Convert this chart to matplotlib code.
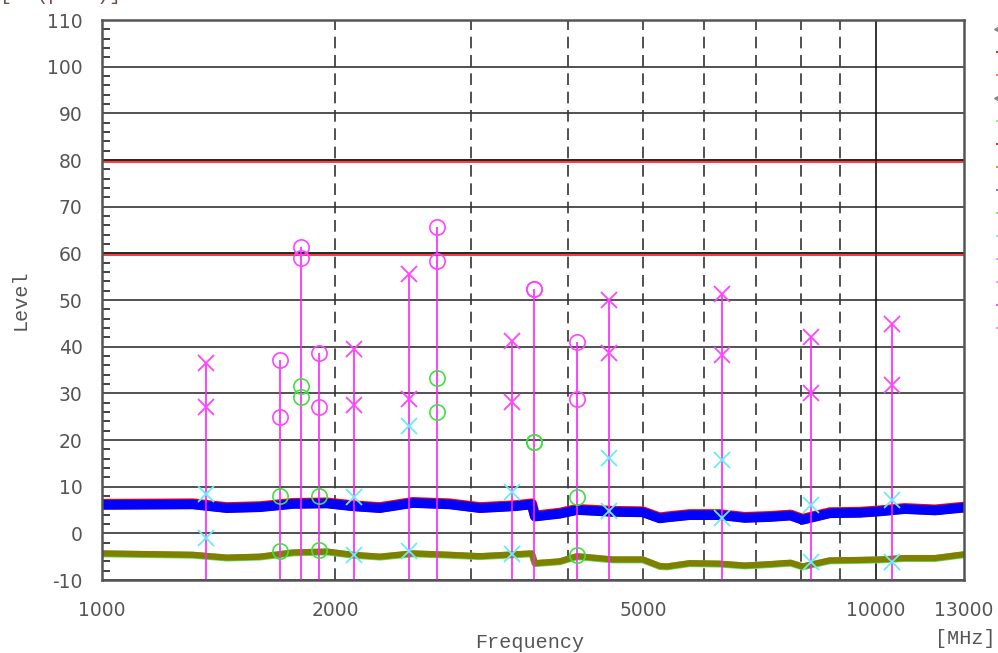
import matplotlib
matplotlib.use("Agg")
import matplotlib.pyplot as plt
from matplotlib.lines import Line2D

# Messpunkte (Frequenz in MHz)
freqs = [1363, 1698, 1808, 1908, 2117, 2493, 2710, 3387, 3616, 4110, 4521, 6327, 8244, 10491]
kinds = ["x", "o", "o", "o", "x", "x", "o", "x", "o", "o", "x", "x", "x", "x"]
peak_hi = [36.6, 37.1, 61.3, 38.7, 39.6, 55.5, 65.6, 41.3, 52.4, 40.9, 49.9, 51.2, 42.1, 44.8]
peak_lo = [27.1, 25.0, 59.0, 27.0, 27.4, 28.8, 58.4, 28.1, 52.4, 28.7, 38.6, 38.2, 30.0, 31.7]
avg_hi = [8.4, 8.0, 31.5, 8.0, 7.8, 23.1, 33.2, 8.9, 19.6, 7.7, 16.2, 15.8, 6.0, 7.1]
avg_lo = [-1.0, -3.8, 29.3, -3.6, -4.6, -3.7, 26.1, -4.4, 19.6, -4.7, 4.7, 3.2, -6.2, -6.1]

# Rauschpegel (Spur)
trace_f = [1000, 1311, 1450, 1600, 1766, 1953, 2109, 2286, 2521, 2815, 3079, 3416, 3593,
           3627, 3906, 4110, 4571, 5000, 5257, 5370, 5745, 6287, 6770, 7300, 7760, 8040,
           8720, 9540, 10120, 10900, 11930, 13000]
trace_pk = [6.1, 6.2, 5.4, 5.6, 6.3, 6.4, 5.8, 5.4, 6.5, 6.2, 5.4, 5.8, 6.2,
            3.6, 4.2, 5.0, 4.6, 4.5, 3.2, 3.4, 3.9, 3.9, 3.3, 3.5, 3.8, 2.9,
            4.3, 4.4, 4.7, 5.2, 4.9, 5.5]
trace_av = [-4.3, -4.6, -5.2, -5.0, -4.1, -3.9, -4.6, -5.0, -4.3, -4.6, -4.9, -4.5, -4.3,
            -6.4, -6.0, -4.9, -5.6, -5.6, -7.0, -7.1, -6.4, -6.5, -6.9, -6.6, -6.3, -7.1,
            -5.8, -5.7, -5.6, -5.3, -5.3, -4.5]

# Grenzwerte
limit_qp = 79.6
limit_av = 59.6

grid_freqs = [2000, 3000, 4000, 5000, 6000, 7000, 8000, 9000]
xtick_vals = [1000, 2000, 5000, 10000, 13000]

mono = "Liberation Mono"
txt_col = "#555555"

fig = plt.figure(figsize=(9.98, 6.53), dpi=100)
ax = fig.add_axes([102 / 998, 1 - 580 / 653, 862 / 998, 560 / 653])

ax.set_xscale("log")
ax.set_xlim(1000, 13000)
ax.set_ylim(-10, 110)

# Gitter
for v in range(-10, 111, 10):
    ax.axhline(v, color="#333333", lw=1.2, zorder=1)
for f in grid_freqs:
    ax.axvline(f, color="#333333", lw=1.2, ls=(0, (7, 4)), zorder=1)
ax.axvline(10000, color="#111111", lw=1.2, zorder=1)

# Grenzlinien
ax.axhline(limit_qp, color="red", lw=1.1, zorder=2)
ax.axhline(limit_av, color="red", lw=1.1, zorder=2)
ax.axhline(80, color="#222222", lw=1.2, zorder=2)
ax.axhline(60, color="#222222", lw=1.2, zorder=2)

# Spuren
ax.plot(trace_f, [v + 0.15 for v in trace_pk], color="red", lw=7.6, zorder=3)
ax.plot(trace_f, trace_pk, color="blue", lw=7.0, zorder=4)
ax.plot(trace_f, [v - 0.1 for v in trace_av], color="#66dd66", lw=5.0, zorder=3)
ax.plot(trace_f, trace_av, color="#808000", lw=4.5, zorder=4)

# Messpunkte
for f, k, a, b, c, d in zip(freqs, kinds, peak_hi, peak_lo, avg_hi, avg_lo):
    ax.vlines(f, -10, a, color="#ff22ff", lw=1.2, zorder=5)
    if k == "x":
        ax.plot([f, f], [a, b], ls="none", marker="x", ms=11, mew=1.3, color="#ff44ff", zorder=6)
        ax.plot([f, f], [c, d], ls="none", marker="x", ms=11, mew=1.3, color="#66eef5", zorder=6)
    else:
        ax.plot([f, f], [a, b], ls="none", marker="o", ms=11, mew=1.2, mfc="none", color="#ff44ff", zorder=6)
        ax.plot([f, f], [c, d], ls="none", marker="o", ms=11, mew=1.2, mfc="none", color="#44dd44", zorder=6)

# Achsen
ax.set_xticks(xtick_vals)
ax.set_xticklabels([str(v) for v in xtick_vals])
ax.xaxis.set_minor_locator(matplotlib.ticker.NullLocator())
ax.set_yticks(range(-10, 111, 10))
ax.set_yticklabels([str(v) for v in range(-10, 111, 10)])
ax.set_yticks([v for v in range(-10, 111, 2) if v % 10 != 0], minor=True)
ax.tick_params(axis="both", which="major", length=0, labelsize=13.5, labelcolor=txt_col)
ax.tick_params(axis="y", which="major", pad=14)
ax.tick_params(axis="x", which="major", pad=15)
ax.tick_params(axis="y", which="minor", direction="in", length=6, width=1.3, color="#333333")
for s in ax.spines.values():
    s.set_color("#555555")
    s.set_linewidth(1.8)
    s.set_zorder(7)

fig.text(20 / 998, 1 - 300 / 653, "Level", rotation=90, ha="center", va="center",
         family=mono, fontsize=14.5, color=txt_col)
fig.text(530 / 998, 1 - 642 / 653, "Frequency", ha="center", va="center",
         family=mono, fontsize=14.5, color=txt_col)
fig.text(965 / 998, 1 - 638 / 653, "[MHz]", ha="center", va="center",
         family=mono, fontsize=14.5, color=txt_col)
fig.text(0.0, 1 + 6 / 653, "[dB(\u03bcV/m)]", ha="left", va="center",
         family=mono, fontsize=14.5, color="#7a4a4a")

# Legende (rechts abgeschnitten)
leg_items = [
    ("<", "none", "#888888", "Limit QP"),
    ("", "-", "red", "EN 55032 QP"),
    ("", "-", "#ff6060", "margin QP"),
    ("<", "none", "#888888", "Limit AV"),
    ("", "-", "#99e099", "Trace"),
    ("", "-", "red", "EN 55032 AV"),
    ("", "-", "#999933", "AV"),
    ("", "-", "#6666ee", "PK"),
    ("", "-", "#66ee66", "AV final"),
    ("", "-", "#88eef5", "PK final"),
    ("", "-", "#f090f0", "QP H"),
    ("", "-", "#ff88ff", "QP V"),
    ("", "-", "#ff33ee", "PK H"),
    ("", "-", "#f088f0", "PK V"),
]
handles = [Line2D([], [], marker=m, ls=ls, color=c, ms=5, lw=1.3) for m, ls, c, _ in leg_items]
fig.legend(handles, [n for _, _, _, n in leg_items], loc="upper left",
           bbox_to_anchor=(993 / 998, 1 - 23 / 653), frameon=False, fontsize=9,
           labelspacing=0.8, borderpad=0, borderaxespad=0, handlelength=2,
           handletextpad=0.4, numpoints=2)

fig.savefig("out.png", dpi=100)
